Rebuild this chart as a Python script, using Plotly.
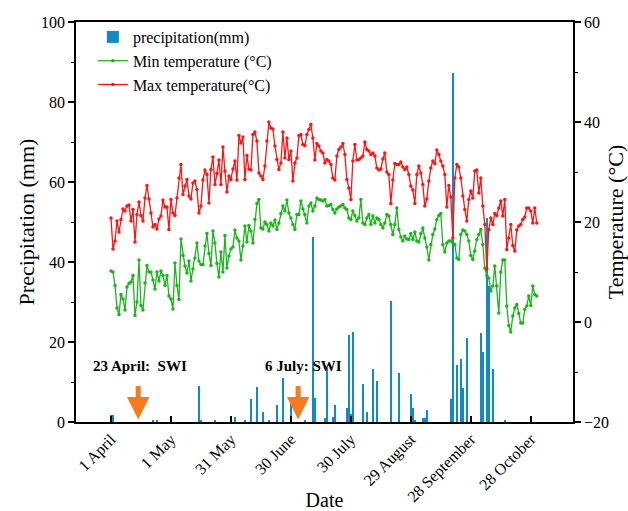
import pandas as pd
import plotly.graph_objects as go

# ---------------- data ----------------
dates = pd.date_range("2019-04-01", periods=214, freq="D")

tmax = [20.8, 14.6, 16.2, 20.2, 18.0, 20.5, 22.6, 22.2, 23.2, 23.4,
        20.2, 22.5, 16.0, 21.5, 24.0, 21.3, 20.2, 24.8, 27.3, 24.6,
        21.8, 19.0, 19.5, 18.6, 20.6, 21.2, 24.4, 23.0, 23.0, 18.5,
        24.5, 21.8, 21.3, 24.8, 28.8, 31.5, 25.5, 27.2, 28.5, 25.2,
        24.6, 27.8, 28.2, 26.5, 21.8, 23.2, 28.4, 30.4, 29.5, 23.8,
        30.5, 33.0, 27.5, 29.7, 32.4, 27.5, 35.0, 30.2, 26.0, 29.2,
        28.5, 30.6, 32.2, 28.4, 37.3, 35.8, 37.0, 28.5, 33.3, 30.6,
        30.4, 37.5, 38.0, 36.2, 29.8, 29.2, 28.5, 31.2, 36.2, 40.0,
        38.8, 38.6, 35.2, 32.5, 30.5, 31.8, 38.0, 32.8, 36.8, 32.5,
        34.2, 28.2, 31.8, 32.8, 37.3, 37.5, 35.5, 35.3, 37.5, 38.5,
        39.5, 36.8, 32.4, 35.7, 35.2, 34.2, 33.8, 31.8, 32.5, 32.2,
        31.5, 28.8, 28.4, 33.2, 34.5, 35.0, 35.7, 33.5, 28.5, 26.8,
        24.5, 32.2, 35.5, 32.4, 32.5, 32.8, 33.2, 36.0, 34.5, 34.2,
        33.5, 33.8, 33.2, 30.8, 30.4, 30.6, 32.6, 33.8, 30.0, 29.5,
        23.7, 28.4, 31.7, 31.5, 31.5, 32.0, 31.0, 30.5, 31.0, 29.5,
        27.2, 26.4, 23.7, 29.5, 31.2, 29.8, 27.5, 23.2, 24.6, 28.2,
        30.8, 32.2, 31.7, 34.4, 33.5, 32.2, 31.2, 29.5, 23.0, 27.3,
        25.0, 16.8, 28.8, 31.5, 31.0, 28.8, 25.2, 22.5, 20.2, 24.5,
        26.2, 24.8, 30.2, 30.4, 25.8, 28.8, 23.2, 19.5, 10.6, 18.5,
        20.8, 19.5, 21.7, 21.3, 22.8, 24.2, 21.2, 24.5, 14.5, 16.8,
        19.5, 15.3, 14.2, 18.4, 19.2, 19.5, 20.5, 21.0, 22.8, 22.8,
        22.2, 19.8, 22.8, 19.8]

tmin = [10.2, 10.0, 7.3, 2.8, 1.5, 5.5, 4.6, 2.4, 7.0, 7.7,
        8.0, 9.3, 1.3, 4.0, 12.4, 3.3, 2.4, 7.8, 11.3, 10.0,
        10.0, 8.4, 6.6, 10.0, 8.2, 10.2, 9.3, 7.3, 9.3, 5.2,
        4.6, 2.6, 11.8, 7.3, 4.5, 16.6, 13.3, 11.2, 9.8, 12.2,
        8.2, 10.6, 12.8, 15.8, 12.2, 11.5, 11.5, 15.2, 17.7, 13.7,
        11.3, 18.2, 15.8, 11.7, 9.0, 14.0, 10.0, 17.3, 10.8, 13.2,
        14.6, 15.0, 18.4, 16.8, 16.2, 12.4, 15.2, 19.2, 16.0, 19.3,
        18.2, 15.8, 20.5, 23.7, 24.5, 18.8, 18.6, 20.0, 19.5, 18.2,
        19.8, 19.2, 20.4, 18.5, 19.8, 21.7, 23.2, 22.2, 24.4, 21.8,
        20.8, 19.5, 18.5, 21.5, 21.5, 24.2, 22.6, 21.5, 19.8, 23.2,
        23.8, 22.2, 23.2, 24.8, 24.5, 24.4, 24.2, 24.5, 23.2, 23.3,
        23.5, 22.5, 21.8, 22.6, 23.0, 23.2, 23.5, 22.8, 22.5, 20.8,
        20.5, 22.2, 21.3, 20.2, 20.8, 24.5, 19.8, 19.5, 20.8, 21.5,
        19.5, 21.2, 19.8, 20.8, 20.5, 19.5, 18.8, 19.8, 21.5, 21.2,
        19.5, 17.5, 19.5, 22.8, 18.5, 17.0, 16.2, 17.2, 16.6, 16.5,
        17.7, 16.5, 18.0, 16.2, 16.0, 17.7, 18.8, 16.8, 15.0, 12.4,
        15.5, 17.5, 18.6, 20.5, 21.3, 21.7, 15.5, 14.0, 15.8, 16.2,
        16.2, 15.8, 15.5, 12.8, 12.5, 17.5, 18.4, 18.2, 17.5, 16.2,
        13.3, 12.5, 14.2, 16.5, 17.5, 18.5, 15.5, 10.8, 9.3, 8.8,
        6.2, 7.2, 11.2, 7.2, 1.8, 10.0, 12.4, 12.4, 3.2, -0.7,
        -2.0, 1.2, 2.8, 3.5, 1.7, -0.2, -0.2, 2.5, 3.2, 5.2,
        3.3, 7.2, 5.5, 5.2]

rain_dates = ["2019-04-01", "2019-04-02", "2019-04-22", "2019-04-24",
              "2019-05-15", "2019-05-16", "2019-05-23", "2019-06-02",
              "2019-06-07", "2019-06-10", "2019-06-13", "2019-06-16",
              "2019-06-19", "2019-06-23", "2019-06-26", "2019-06-30",
              "2019-07-07", "2019-07-11", "2019-07-12", "2019-07-17",
              "2019-07-18", "2019-07-21", "2019-07-22", "2019-07-28",
              "2019-07-29", "2019-07-30", "2019-07-31", "2019-08-05",
              "2019-08-07", "2019-08-10", "2019-08-12", "2019-08-19",
              "2019-08-23", "2019-08-29", "2019-08-30", "2019-08-31",
              "2019-09-04", "2019-09-05", "2019-09-06", "2019-09-18",
              "2019-09-19", "2019-09-21", "2019-09-23", "2019-09-24",
              "2019-09-26", "2019-10-03", "2019-10-04", "2019-10-06",
              "2019-10-07", "2019-10-09", "2019-10-15"]
rain_mm = [1.8, 1.8, 0.3, 0.3,
           9.0, 0.5, 0.5, 1.2,
           0.5, 5.8, 8.8, 2.4,
           0.3, 4.3, 10.9, 4.4,
           0.5, 46.3, 6.1, 0.9,
           13.4, 1.3, 4.3, 3.6,
           21.8, 2.0, 22.6, 9.5,
           2.5, 13.2, 10.3, 30.3,
           12.2, 7.0, 3.4, 0.5,
           0.9, 0.9, 3.0, 5.8,
           87.2, 14.3, 15.8, 8.6,
           20.9, 22.2, 17.6, 51.1,
           34.0, 13.2, 0.3]

tick_dates = ["2019-04-01", "2019-05-01", "2019-05-31", "2019-06-30",
              "2019-07-30", "2019-08-29", "2019-09-28", "2019-10-28"]
tick_labels = ["1 April", "1 May", "31 May", "30 June",
               "30 July", "29 August", "28 September", "28 October"]

swi_text = ["23 April:  SWI", "6 July: SWI"]
swi_text_x = ["2019-04-15 12:00", "2019-07-06 06:00"]
swi_arrow_x = ["2019-04-14 15:00", "2019-07-03 15:00"]

# ---------------- figure ----------------
FONT = "Liberation Serif, Times New Roman, serif"
BLUE = "#0f8bc8"
GREEN = "#1db41d"
RED = "#ff1414"
ORANGE = "#f67a1f"

fig = go.Figure()
fig.add_trace(go.Bar(
    x=pd.to_datetime(rain_dates), y=rain_mm, name="precipitation(mm)",
    marker=dict(color=BLUE, line=dict(width=0)),
    width=86400000 * 1.05, yaxis="y"))
fig.add_trace(go.Scatter(
    x=dates, y=tmin, name="Min temperature (°C)", mode="lines+markers",
    line=dict(color=GREEN, width=1.3), marker=dict(color=GREEN, size=3.5),
    yaxis="y2"))
fig.add_trace(go.Scatter(
    x=dates, y=tmax, name="Max temperature(°C)", mode="lines+markers",
    line=dict(color=RED, width=1.3), marker=dict(color=RED, size=3.5),
    yaxis="y2"))

annotations = []
for t, xt in zip(swi_text, swi_text_x):
    annotations.append(dict(
        x=xt, y=14.1, xref="x", yref="y", text="<b>" + t + "</b>",
        showarrow=False, font=dict(family=FONT, size=15, color="black")))
for xa in swi_arrow_x:
    annotations.append(dict(
        x=xa, y=0.6, xref="x", yref="y", ax=xa, ay=9.4,
        axref="x", ayref="y", text="", showarrow=True,
        arrowhead=2, arrowsize=0.9, arrowwidth=5, arrowcolor=ORANGE))

fig.update_layout(
    width=628, height=511,
    margin=dict(l=76, r=55, t=22, b=89),
    paper_bgcolor="white", plot_bgcolor="white",
    font=dict(family=FONT, size=16, color="black"),
    showlegend=True,
    legend=dict(x=0.034, y=1.005, xanchor="left", yanchor="top",
                bgcolor="rgba(0,0,0,0)", font=dict(family=FONT, size=16),
                tracegroupgap=0),
    bargap=0,
    annotations=annotations,
    xaxis=dict(
        type="date", automargin=False,
        range=["2019-03-14 12:00", "2019-11-18 03:00"],
        tickvals=pd.to_datetime(tick_dates), ticktext=tick_labels,
        tickangle=-45, ticks="inside", ticklen=6, tickwidth=1.5,
        tickcolor="black",
        showline=True, linecolor="black", linewidth=1.5, mirror=True,
        showgrid=False, zeroline=False,
        title=dict(text="Date", font=dict(family=FONT, size=20), standoff=6),
        tickfont=dict(family=FONT, size=16)),
    yaxis=dict(
        automargin=False,
        range=[0, 100], tickvals=[0, 20, 40, 60, 80, 100],
        ticks="outside", ticklen=6, tickwidth=1.5, tickcolor="black",
        minor=dict(tickvals=[10, 30, 50, 70, 90], ticks="outside",
                   ticklen=3, tickwidth=1.2, tickcolor="black"),
        showline=True, linecolor="black", linewidth=1.5,
        showgrid=False, zeroline=False,
        title=dict(text="Precipitation (mm)", font=dict(family=FONT, size=22),
                   standoff=0),
        tickfont=dict(family=FONT, size=16)),
    yaxis2=dict(
        automargin=False,
        range=[-20, 60], tickvals=[-20, 0, 20, 40, 60],
        overlaying="y", side="right",
        ticks="outside", ticklen=6, tickwidth=1.5, tickcolor="black",
        minor=dict(tickvals=[-10, 10, 30, 50], ticks="outside",
                   ticklen=3, tickwidth=1.2, tickcolor="black"),
        showline=True, linecolor="black", linewidth=1.5,
        showgrid=False, zeroline=False,
        title=dict(text="Temperature (°C)", font=dict(family=FONT, size=22),
                   standoff=0),
        tickfont=dict(family=FONT, size=16)),
)

fig.write_html("out.html", config={"displayModeBar": False},
               post_script="document.body.style.margin='0px';")
